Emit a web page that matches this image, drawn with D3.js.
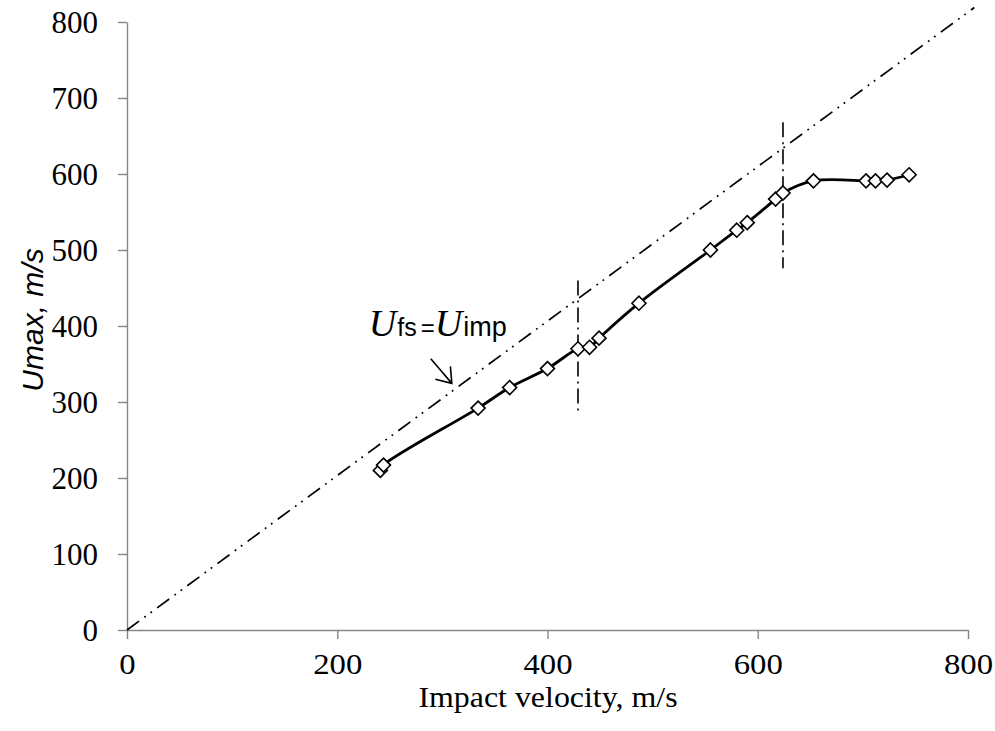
<!DOCTYPE html>
<html>
<head>
<meta charset="utf-8">
<script src="https://cdn.jsdelivr.net/npm/d3@7/dist/d3.min.js"></script>
<style>
  html, body { margin: 0; padding: 0; background: #fff; }
  svg { display: block; }
</style>
</head>
<body>
<svg id="chart" width="995" height="731"></svg>
<script>
// ---- data ----
const impactVelocity = [241, 244, 334, 364, 400, 429, 440, 449, 487, 555, 580, 590, 617, 624, 653, 703, 712, 723, 744];
const umax           = [210, 217, 292, 319, 344, 370, 372, 384, 430, 500, 526, 536, 567, 575, 591, 591, 591, 592, 599];

// U_fs = U_imp reference line (end points)
const identityX = [0, 806];
const identityY = [0, 819];

// vertical dash-dot boundary marks
const boundaryX    = [429, 624];
const boundaryLow  = [287, 476];
const boundaryHigh = [460, 668];

const xTicks = [0, 200, 400, 600, 800];
const yTicks = [0, 100, 200, 300, 400, 500, 600, 700, 800];

const xTitle = "Impact velocity, m/s";
const yTitle = "Umax, m/s";

// ---- layout ----
const svg = d3.select("#chart");
const x = d3.scaleLinear().domain([0, 800]).range([127, 968]);
const y = d3.scaleLinear().domain([0, 800]).range([630, 22]);
const axisColor = "#868686";

// axes
const yAxis = svg.append("g")
  .attr("transform", `translate(${x(0)},0)`)
  .call(d3.axisLeft(y).tickValues(yTicks).tickSize(9).tickSizeOuter(0).tickPadding(20));
const xAxis = svg.append("g")
  .attr("transform", `translate(0,${y(0)})`)
  .call(d3.axisBottom(x).tickValues(xTicks).tickSize(9).tickSizeOuter(0));

[yAxis, xAxis].forEach(g => {
  g.select(".domain").attr("stroke", axisColor).attr("stroke-width", 1.4);
  g.selectAll(".tick line").attr("stroke", axisColor).attr("stroke-width", 1.4);
});
yAxis.selectAll(".tick text")
  .attr("font-family", "'Liberation Serif', 'Times New Roman', serif")
  .attr("font-size", 31)
  .attr("fill", "#000")
  .attr("dy", "0.34em");
xAxis.selectAll(".tick text")
  .attr("font-family", "'Liberation Serif', 'Times New Roman', serif")
  .attr("font-size", 29)
  .attr("fill", "#000")
  .attr("y", 44)
  .attr("dy", 0)
  .attr("transform", "scale(1.13,1)");

// axis titles
svg.append("text")
  .attr("transform", `translate(548,707) scale(1.1,1)`)
  .attr("text-anchor", "middle")
  .attr("font-family", "'Liberation Serif', 'Times New Roman', serif")
  .attr("font-size", 29)
  .text(xTitle);

svg.append("text")
  .attr("transform", `translate(32,320) rotate(-90)`)
  .attr("text-anchor", "middle")
  .attr("dominant-baseline", "central")
  .attr("font-family", "'Liberation Sans', Arial, sans-serif")
  .attr("font-style", "italic")
  .attr("font-size", 30)
  .text(yTitle);

// U_fs = U_imp line (dash-dot-dot)
svg.append("line")
  .attr("x1", x(identityX[0])).attr("y1", y(identityY[0]))
  .attr("x2", x(identityX[1])).attr("y2", y(identityY[1]))
  .attr("stroke", "#000")
  .attr("stroke-width", 1.7)
  .attr("stroke-dasharray", "15,6.5,1.8,5.8,1.8,6.5");

// vertical boundary marks (dash-dot)
svg.selectAll("line.boundary")
  .data(boundaryX)
  .join("line")
  .attr("class", "boundary")
  .attr("x1", d => x(d)).attr("x2", d => x(d))
  .attr("y1", (d, i) => y(boundaryHigh[i]))
  .attr("y2", (d, i) => y(boundaryLow[i]))
  .attr("stroke", "#000")
  .attr("stroke-width", 1.6)
  .attr("stroke-dasharray", "15,5,2,5");

// smoothed data line
const pts = impactVelocity.map((v, i) => [v, umax[i]]);
svg.append("path")
  .datum(pts)
  .attr("fill", "none")
  .attr("stroke", "#000")
  .attr("stroke-width", 2.8)
  .attr("d", d3.line().x(d => x(d[0])).y(d => y(d[1])).curve(d3.curveCatmullRom.alpha(0.5)));

// diamond markers
const r = 7;
svg.selectAll("path.marker")
  .data(pts)
  .join("path")
  .attr("class", "marker")
  .attr("transform", d => `translate(${x(d[0])},${y(d[1])})`)
  .attr("d", `M0,${-r}L${r},0L0,${r}L${-r},0Z`)
  .attr("fill", "#fff")
  .attr("stroke", "#000")
  .attr("stroke-width", 1.6);

// annotation label U_fs = U_imp
const lab = svg.append("text")
  .attr("x", x(230)).attr("y", y(387))
  .attr("fill", "#000");
lab.append("tspan")
  .attr("font-family", "'Liberation Serif', 'Times New Roman', serif")
  .attr("font-style", "italic").attr("font-size", 38).text("U");
lab.append("tspan")
  .attr("font-family", "'Liberation Sans', Arial, sans-serif")
  .attr("font-size", 25).attr("dx", 1).text("fs");
lab.append("tspan")
  .attr("font-family", "'Liberation Sans', Arial, sans-serif")
  .attr("font-size", 24).attr("dx", 4).text("=");
lab.append("tspan")
  .attr("font-family", "'Liberation Serif', 'Times New Roman', serif")
  .attr("font-style", "italic").attr("font-size", 38).text("U");
lab.append("tspan")
  .attr("font-family", "'Liberation Sans', Arial, sans-serif")
  .attr("font-size", 27).attr("dx", 1).text("imp");

// arrow
const tail = [x(289), y(357)];
const tip = [x(309), y(324.5)];
const ang = Math.atan2(tip[1] - tail[1], tip[0] - tail[0]);
const headLen = 17, spread = 0.62;
const arm = s => [tip[0] - headLen * Math.cos(ang + s), tip[1] - headLen * Math.sin(ang + s)];
const a1 = arm(spread), a2 = arm(-spread);
svg.append("path")
  .attr("d", `M${tail[0]},${tail[1]}L${tip[0]},${tip[1]}M${a1[0]},${a1[1]}L${tip[0]},${tip[1]}L${a2[0]},${a2[1]}`)
  .attr("fill", "none")
  .attr("stroke", "#000")
  .attr("stroke-width", 1.6);
</script>
</body>
</html>
